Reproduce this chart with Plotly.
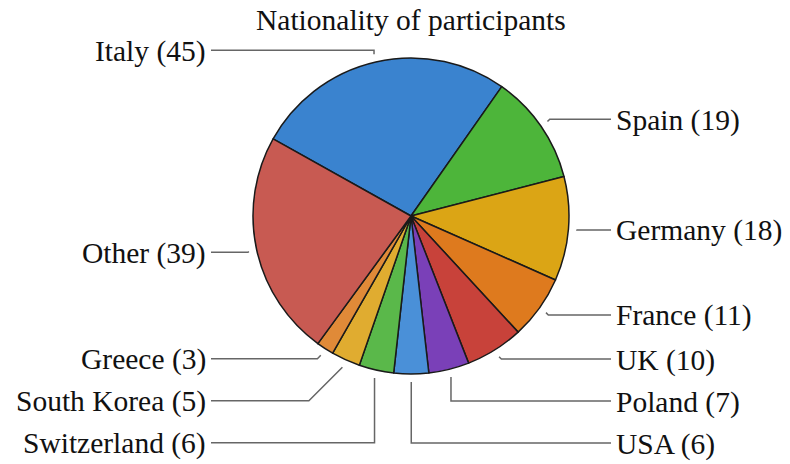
import math
import plotly.graph_objects as go

# ---- data ----
countries = ["Italy", "Spain", "Germany", "France", "UK", "Poland", "USA",
             "Switzerland", "South Korea", "Greece", "Other"]
participants = [45, 19, 18, 11, 10, 7, 6, 6, 5, 3, 39]
colors = ["#3a83cf", "#4db53a", "#dba515", "#de7a1e", "#c8423a", "#7a40b8",
          "#4a90d8", "#5ab84a", "#e0ac30", "#e08a38", "#c85a52"]
title_text = "Nationality of participants"

# ---- layout constants (pixels) ----
W, H = 790, 464
CX, CY, R = 411, 216, 158
START_DEG = 150.8           # angle (ccw from east) where first slice starts
CONN_OFF = 8                # connector starts this far outside the pie
LABEL_OFF = 12              # label target radius offset
LABEL_GAP = 45              # horizontal distance from pie edge to label
SPACING = 42                # minimum vertical spacing between labels
YMIN, YMAX = 50, 443
FONT = "Liberation Serif"
FSIZE = 29.5


def px(x):
    return x / W


def py(y):
    return 1 - y / H


fig = go.Figure()
fig.add_trace(go.Pie(
    labels=countries, values=participants, sort=False,
    direction="clockwise", rotation=90 - START_DEG,
    marker=dict(colors=colors, line=dict(color="#1a1a1a", width=1.5)),
    textinfo="none", hoverinfo="label+value", showlegend=False,
    domain=dict(x=[px(CX - R), px(CX + R)], y=[py(CY + R), py(CY - R)]),
))

# ---- compute label positions from the data ----
total = sum(participants)
cum = 0
items = []
for name, v in zip(countries, participants):
    mid = START_DEG - (cum + v / 2) / total * 360
    cum += v
    a = math.radians(mid)
    sx = CX + (R + CONN_OFF) * math.cos(a)
    sy = CY - (R + CONN_OFF) * math.sin(a)
    ty = CY - (R + LABEL_OFF) * math.sin(a)
    side = 1 if math.cos(a) >= 0 else -1
    items.append(dict(name=name, v=v, a=a, x=sx, y=sy, t=ty, side=side, ly=ty))

for side in (1, -1):
    grp = sorted([it for it in items if it["side"] == side], key=lambda d: d["t"])
    prev = None
    for it in grp:
        ly = max(it["t"], YMIN)
        if prev is not None:
            ly = max(ly, prev + SPACING)
        it["ly"] = ly
        prev = ly
    nxt = None
    for it in reversed(grp):
        ly = min(it["ly"], YMAX)
        if nxt is not None:
            ly = min(ly, nxt - SPACING)
        it["ly"] = ly
        nxt = ly

shapes = []
annotations = []
for it in items:
    s = it["side"]
    dy = it["ly"] - it["y"]
    if abs(math.cos(it["a"])) < 0.3:
        ex = it["x"]
    else:
        ex = it["x"] + s * abs(dy)
    lx_end = CX + s * (R + LABEL_GAP) - s * 3
    path = "M {} {} L {} {} L {} {}".format(
        px(it["x"]), py(it["y"]), px(ex), py(it["ly"]), px(lx_end), py(it["ly"]))
    shapes.append(dict(type="path", path=path, xref="paper", yref="paper",
                       line=dict(color="#666666", width=1.5)))
    annotations.append(dict(
        text=f"{it['name']} ({it['v']})", x=px(CX + s * (R + LABEL_GAP)),
        y=py(it["ly"] + 1), xref="paper", yref="paper",
        xanchor="left" if s > 0 else "right", yanchor="middle",
        showarrow=False, font=dict(family=FONT, size=FSIZE, color="#111111")))

annotations.append(dict(
    text=title_text, x=px(410.5), y=py(20), xref="paper", yref="paper",
    xanchor="center", yanchor="middle", showarrow=False,
    font=dict(family=FONT, size=FSIZE, color="#111111")))

fig.update_layout(
    width=W, height=H, margin=dict(l=0, r=0, t=0, b=0),
    paper_bgcolor="white", plot_bgcolor="white",
    font=dict(family=FONT),
    shapes=shapes, annotations=annotations,
)

fig.write_html("out.html", config={"displayModeBar": False},
               post_script="document.body.style.margin='0';"
                           "document.body.style.padding='0';")
